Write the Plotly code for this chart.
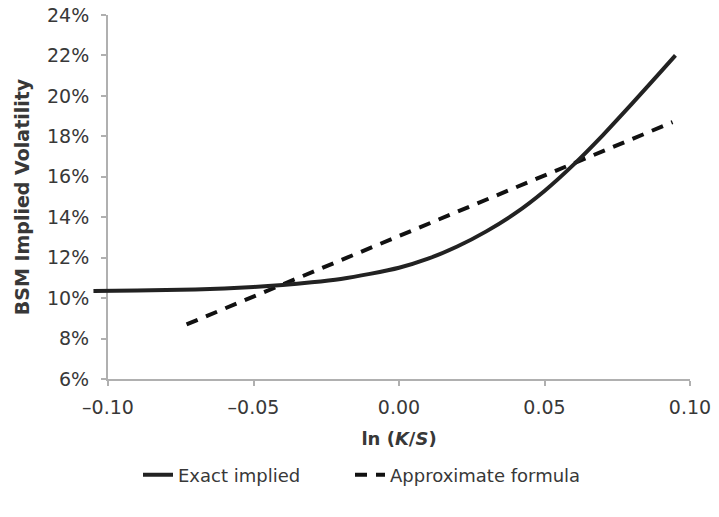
import plotly.graph_objects as go

# Data
exact_x = [-0.105, -0.09, -0.08, -0.07, -0.06, -0.05, -0.04, -0.03, -0.02, -0.01,
           0.00, 0.01, 0.02, 0.03, 0.04, 0.05, 0.06, 0.07, 0.08, 0.09, 0.095]
exact_y = [10.35, 10.38, 10.40, 10.43, 10.48, 10.55, 10.65, 10.78, 10.95, 11.2,
           11.5, 11.95, 12.55, 13.3, 14.2, 15.3, 16.6, 18.05, 19.6, 21.2, 22.0]

approx_x = [-0.073, 0.094]
approx_y = [8.7, 18.7]

x_tickvals = [-0.10, -0.05, 0.00, 0.05, 0.10]
x_ticktext = ["\u20130.10", "\u20130.05", "0.00", "0.05", "0.10"]
y_tickvals = [6, 8, 10, 12, 14, 16, 18, 20, 22, 24]
y_ticktext = ["6%", "8%", "10%", "12%", "14%", "16%", "18%", "20%", "22%", "24%"]

W, H = 719, 517
ML, MR, MT, MB = 92, 29, 15, 138
pw = W - ML - MR
ph = H - MT - MB
axis_left_px = 108
dom0 = (axis_left_px - ML) / pw
scale = (690 - axis_left_px) / 0.20
x2_min = -0.10 - (axis_left_px - ML) / scale

font_fam = "DejaVu Sans, Liberation Sans, Arial, sans-serif"
txt = "#383838"
axcol = "#b0b0b0"
FT = 19   # tick labels
FL = 18   # legend

fig = go.Figure()
fig.add_trace(go.Scatter(
    x=exact_x, y=exact_y, mode="lines", name="Exact implied",
    line=dict(color="#222222", width=4, shape="spline", smoothing=0.4),
    xaxis="x2", yaxis="y2", legend="legend"))
fig.add_trace(go.Scatter(
    x=approx_x, y=approx_y, mode="lines", name="Approximate formula",
    line=dict(color="#111111", width=4, dash="12px,9px"),
    xaxis="x", yaxis="y", legend="legend2"))

leg_common = dict(orientation="h", xanchor="left", y=-96 / ph, yanchor="middle",
                  font=dict(family=font_fam, size=FL, color=txt),
                  bgcolor="rgba(0,0,0,0)")

fig.update_layout(
    width=W, height=H,
    margin=dict(l=ML, r=MR, t=MT, b=MB, autoexpand=False),
    paper_bgcolor="white", plot_bgcolor="rgba(0,0,0,0)",
    font=dict(family=font_fam, size=FT, color=txt),
    showlegend=True,
    legend=dict(x=(138 - ML) / pw, **leg_common),
    legend2=dict(x=(350 - ML) / pw, **leg_common),
    xaxis=dict(domain=[dom0, 1], range=[-0.10, 0.10], tickvals=x_tickvals,
               ticktext=x_ticktext, showline=True, linecolor=axcol, linewidth=2,
               ticks="outside", tickcolor=axcol, ticklen=5, tickwidth=1.5,
               tickfont=dict(family=font_fam, size=FT, color=txt),
               showgrid=False, zeroline=False, ticklabelstandoff=5,
               automargin=False,
               title=dict(text="<b>ln (<i>K</i>/<i>S</i>)</b>", standoff=16,
                          font=dict(family=font_fam, size=18, color=txt)),
               anchor="y"),
    yaxis=dict(domain=[0, 1], range=[6, 24], tickvals=y_tickvals,
               ticktext=y_ticktext,
               showline=True, linecolor=axcol, linewidth=2, ticks="outside",
               tickcolor=axcol, ticklen=5, tickwidth=1.5, showgrid=False,
               tickfont=dict(family=font_fam, size=FT, color=txt),
               zeroline=False, ticklabelstandoff=8, automargin=False,
               title=dict(text="<b>BSM Implied Volatility</b>", standoff=12,
                          font=dict(family=font_fam, size=19, color=txt)),
               anchor="x"),
    xaxis2=dict(domain=[0, 1], range=[x2_min, 0.10], visible=False, anchor="y2"),
    yaxis2=dict(domain=[0, 1], range=[6, 24], visible=False, anchor="x2"),
)

fig.write_html("out.html", config={"displayModeBar": False},
               post_script="document.body.style.margin='0';document.body.style.padding='0';")
